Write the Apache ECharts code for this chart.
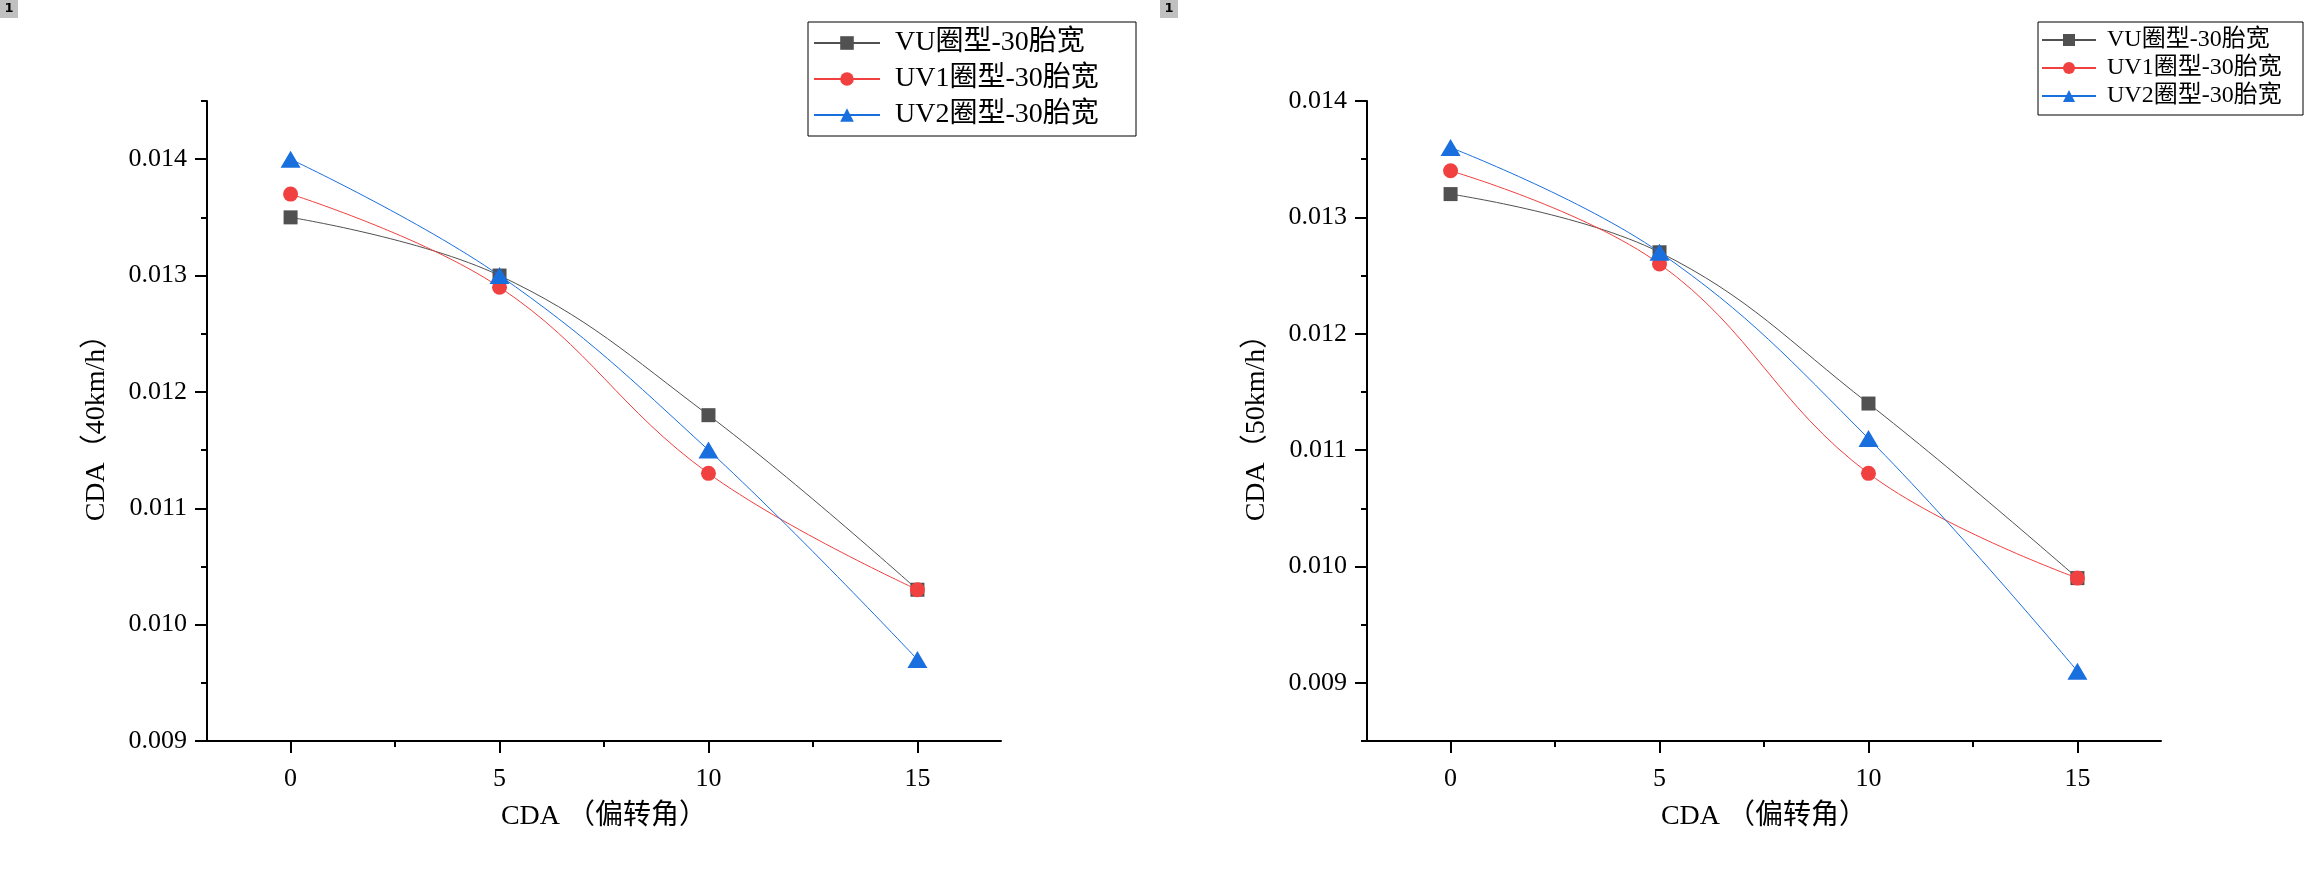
<!DOCTYPE html>
<html>
<head>
<meta charset="utf-8">
<script src="https://cdn.jsdelivr.net/npm/echarts@6/dist/echarts.min.js"></script>
<style>
html,body{margin:0;padding:0;background:#fff;}
#chart{width:2320px;height:878px;}
</style>
</head>
<body>
<div id="chart"></div>
<script>
// ---- data ----
const xValues = [0, 5, 10, 15];
const seriesNames = ['VU圈型-30胎宽', 'UV1圈型-30胎宽', 'UV2圈型-30胎宽'];
const vu40  = [0.0135, 0.0130, 0.0118, 0.0103];
const uv1_40 = [0.0137, 0.0129, 0.0113, 0.0103];
const uv2_40 = [0.0140, 0.0130, 0.0115, 0.0097];
const vu50  = [0.0132, 0.0127, 0.0114, 0.0099];
const uv1_50 = [0.0134, 0.0126, 0.0108, 0.0099];
const uv2_50 = [0.0136, 0.0127, 0.0111, 0.0091];
const xMajorTicks = [0, 5, 10, 15];
const xMinorTicks = [2.5, 7.5, 12.5];
const yMajorTicks40 = [0.009, 0.010, 0.011, 0.012, 0.013, 0.014];
const yMinorTicks40 = [0.0095, 0.0105, 0.0115, 0.0125, 0.0135, 0.0145];
const yMajorTicks50 = [0.009, 0.010, 0.011, 0.012, 0.013, 0.014];
const yMinorTicks50 = [0.0085, 0.0095, 0.0105, 0.0115, 0.0125, 0.0135];
const xAxisName = 'CDA （偏转角）';
const yAxisName40 = 'CDA（40km/h）';
const yAxisName50 = 'CDA（50km/h）';

// ---- styling ----
const FONT = "'Liberation Serif', 'Noto Sans CJK SC', serif";
const colors = ['#515151', '#F14040', '#1A6FDF'];
const symbols = ['rect', 'circle', 'triangle'];
const symbolSizes = [14, 15, [20, 17]];

const chart = echarts.init(document.getElementById('chart'), null, {renderer: 'canvas'});

function xAxes(grid) {
  const base = {
    type: 'value', gridIndex: grid, min: -2, max: 17, position: 'bottom',
    splitLine: {show: false}
  };
  return [
    Object.assign({}, base, {
      name: xAxisName, nameLocation: 'middle', nameGap: 62,
      nameTextStyle: {fontFamily: FONT, fontSize: 28, color: '#000'},
      axisLine: {show: true, onZero: false, lineStyle: {color: '#000', width: 2}},
      axisTick: {show: true, inside: false, length: 12, customValues: xMajorTicks, lineStyle: {color: '#000', width: 2}},
      axisLabel: {show: true, customValues: xMajorTicks, margin: 25, fontFamily: FONT, fontSize: 26, color: '#000'}
    }),
    Object.assign({}, base, {
      axisLine: {show: false, onZero: false},
      axisTick: {show: true, inside: false, length: 6, customValues: xMinorTicks, lineStyle: {color: '#000', width: 2}},
      axisLabel: {show: false}
    })
  ];
}

function yAxes(grid, min, max, name, majors, minors) {
  const base = {
    type: 'value', gridIndex: grid, min: min, max: max, position: 'left',
    splitLine: {show: false}
  };
  return [
    Object.assign({}, base, {
      name: name, nameLocation: 'middle', nameGap: 96,
      nameTextStyle: {fontFamily: FONT, fontSize: 28, color: '#000'},
      axisLine: {show: true, onZero: false, lineStyle: {color: '#000', width: 2}},
      axisTick: {show: true, inside: false, length: 12, customValues: majors, lineStyle: {color: '#000', width: 2}},
      axisLabel: {show: true, customValues: majors, margin: 20, fontFamily: FONT, fontSize: 26, color: '#000',
        formatter: v => Number(v).toFixed(3)}
    }),
    Object.assign({}, base, {
      axisLine: {show: false, onZero: false},
      axisTick: {show: true, inside: false, length: 6, customValues: minors, lineStyle: {color: '#000', width: 2}},
      axisLabel: {show: false}
    })
  ];
}

function makeSeries(values, i, xIdx, yIdx) {
  return {
    name: seriesNames[i], type: 'line',
    xAxisIndex: xIdx, yAxisIndex: yIdx,
    data: xValues.map((x, k) => [x, values[k]]),
    smooth: 0.4,
    symbol: symbols[i], symbolSize: symbolSizes[i],
    showAllSymbol: true,
    lineStyle: {color: colors[i], width: 1},
    itemStyle: {color: colors[i]},
    emphasis: {disabled: true},
    z: 2 + i
  };
}

const option = {
  animation: false,
  backgroundColor: '#fff',
  color: colors,
  grid: [
    {left: 207, top: 101, width: 794, height: 640},
    {left: 1367, top: 101, width: 794, height: 640}
  ],
  xAxis: [].concat(xAxes(0), xAxes(1)),
  yAxis: [].concat(
    yAxes(0, 0.009, 0.0145, yAxisName40, yMajorTicks40, yMinorTicks40),
    yAxes(1, 0.0085, 0.014, yAxisName50, yMajorTicks50, yMinorTicks50)
  ),
  legend: [
    {
      data: seriesNames, orient: 'vertical', left: 808, top: 22,
      itemWidth: 66, itemHeight: 17, itemGap: 8,
      padding: [7, 9, 7, 5],
      borderColor: '#000', borderWidth: 1, backgroundColor: '#fff',
      selectedMode: false,
      textStyle: {fontFamily: FONT, fontSize: 28, lineHeight: 28, color: '#000', width: 232, padding: [0, 0, 0, 10]}
    },
    {
      data: seriesNames, orient: 'vertical', left: 2038, top: 22,
      itemWidth: 54, itemHeight: 15, itemGap: 4,
      padding: [6, 5, 7, 3],
      borderColor: '#000', borderWidth: 1, backgroundColor: '#fff',
      selectedMode: false,
      textStyle: {fontFamily: FONT, fontSize: 24, lineHeight: 24, color: '#000', width: 191, padding: [0, 0, 0, 6]}
    }
  ],
  graphic: [
    {type: 'group', left: 0, top: 0, children: [
      {type: 'rect', shape: {x: 0, y: 0, width: 18, height: 18}, style: {fill: '#c0c0c0'}},
      {type: 'text', x: 9, y: 9, style: {text: '1', fontFamily: 'DejaVu Sans', fontSize: 13, fontWeight: 'bold', fill: '#000', align: 'center', verticalAlign: 'middle'}}
    ]},
    {type: 'group', left: 1160, top: 0, children: [
      {type: 'rect', shape: {x: 0, y: 0, width: 18, height: 18}, style: {fill: '#c0c0c0'}},
      {type: 'text', x: 9, y: 9, style: {text: '1', fontFamily: 'DejaVu Sans', fontSize: 13, fontWeight: 'bold', fill: '#000', align: 'center', verticalAlign: 'middle'}}
    ]}
  ],
  series: [
    makeSeries(vu40, 0, 0, 0),
    makeSeries(uv1_40, 1, 0, 0),
    makeSeries(uv2_40, 2, 0, 0),
    makeSeries(vu50, 0, 2, 2),
    makeSeries(uv1_50, 1, 2, 2),
    makeSeries(uv2_50, 2, 2, 2)
  ]
};
chart.setOption(option);
</script>
</body>
</html>
